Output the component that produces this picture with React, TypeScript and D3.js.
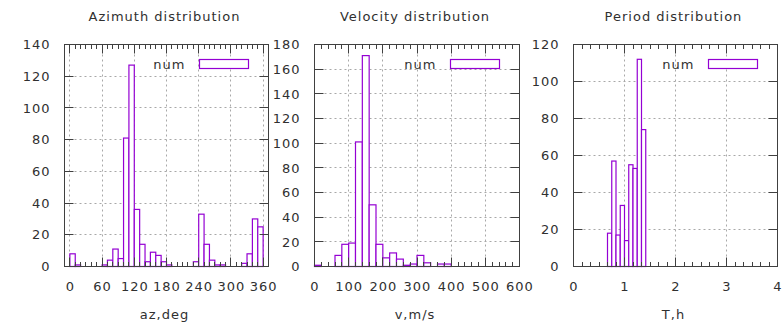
import React from "react";
import * as d3 from "d3";

// ---- data ----
const azBinWidth = 10;
const azStart = 0;
const azCounts = [8, 1, 0, 0, 0, 0, 1, 4, 11, 5, 81, 127, 36, 14, 3, 9, 7, 3, 1, 0, 0, 0, 0, 3, 33, 14, 4, 1, 1, 0, 0, 0, 2, 8, 30, 25];

const velBinWidth = 20;
const velStart = 0;
const velCounts = [1, 0, 0, 9, 18, 19, 101, 171, 50, 18, 7, 11, 6, 1, 2, 9, 3, 0, 2, 2];

const perBinWidth = 1 / 12;
const perStart = 8 / 12;
const perCounts = [18, 57, 17, 33, 14, 55, 53, 112, 74];

const azXTicks = [0, 60, 120, 180, 240, 300, 360];
const velXTicks = [0, 100, 200, 300, 400, 500, 600];
const perXTicks = [0, 1, 2, 3, 4];

const titles = ["Azimuth distribution", "Velocity distribution", "Period distribution"];
const xLabels = ["az,deg", "v,m/s", "T,h"];
const legendLabel = "num";

// ---- style ----
const FONT = "'DejaVu Sans', sans-serif";
const PURPLE = "#9400d3";
const FRAME = "#404040";
const TEXT = "#303030";
const GRID = "#a8a8a8";

interface Panel {
  left: number;
  right: number;
  xDomain: [number, number];
  yMax: number;
  xTicks: number[];
  minorStep: number;
  counts: number[];
  start: number;
  width: number;
  title: string;
  xLabel: string;
}

const TOP = 44.5;
const BOTTOM = 266.5;
const MAJOR = 9;
const MINOR = 4.5;

const panels: Panel[] = [
  { left: 64.5, right: 268.5, xDomain: [-10, 370], yMax: 140, xTicks: azXTicks, minorStep: 10, counts: azCounts, start: azStart, width: azBinWidth, title: titles[0], xLabel: xLabels[0] },
  { left: 314.5, right: 519.5, xDomain: [0, 600], yMax: 180, xTicks: velXTicks, minorStep: 20, counts: velCounts, start: velStart, width: velBinWidth, title: titles[1], xLabel: xLabels[1] },
  { left: 573.5, right: 777.5, xDomain: [0, 4], yMax: 120, xTicks: perXTicks, minorStep: 1 / 6, counts: perCounts, start: perStart, width: perBinWidth, title: titles[2], xLabel: xLabels[2] },
];

const px = (v: number) => Math.floor(v + 0.01) + 0.5;

function PanelView({ p }: { p: Panel }) {
  const x = d3.scaleLinear().domain(p.xDomain).range([p.left, p.right]);
  const y = d3.scaleLinear().domain([0, p.yMax]).range([BOTTOM, TOP]);
  const yTicks = d3.range(0, p.yMax + 0.001, 20);
  const minors: number[] = [];
  const nMin = Math.round((p.xDomain[1] - p.xDomain[0]) / p.minorStep);
  for (let i = 0; i <= nMin + 1; i++) {
    const v = Math.ceil(p.xDomain[0] / p.minorStep - 1e-9) * p.minorStep + i * p.minorStep;
    if (v > p.xDomain[0] + 1e-9 && v < p.xDomain[1] - 1e-9) {
      const isMajor = p.xTicks.some((t) => Math.abs(t - v) < 1e-6);
      if (!isMajor) minors.push(v);
    }
  }
  const cx = (p.left + p.right) / 2;
  const textStyle = { fontFamily: FONT, fontSize: 13, letterSpacing: "1px", fill: TEXT };
  const legendBoxRight = p.right - 20;
  const legendBoxLeft = legendBoxRight - 49;
  const legendY = 64;
  return (
    <g>
      {/* grid */}
      {yTicks.filter((t) => t > 0 && t < p.yMax).map((t) => (
        <line key={"gy" + t} x1={p.left} x2={p.right} y1={px(y(t))} y2={px(y(t))} stroke={GRID} strokeWidth={1} strokeDasharray="2,3" />
      ))}
      {p.xTicks.filter((t) => x(t) > p.left + 1 && x(t) < p.right - 1).map((t) => (
        <line key={"gx" + t} x1={px(x(t))} x2={px(x(t))} y1={TOP} y2={BOTTOM} stroke={GRID} strokeWidth={1} strokeDasharray="2,3" />
      ))}
      {/* bars */}
      {p.counts.map((c, i) => {
        const x0 = x(p.start + i * p.width);
        const x1 = x(p.start + (i + 1) * p.width);
        return (
          <rect key={"b" + i} x={x0} y={y(c)} width={x1 - x0} height={BOTTOM - y(c)} fill="#ffffff" stroke={PURPLE} strokeWidth={1.2} />
        );
      })}
      {/* ticks y */}
      {yTicks.map((t) => (
        <g key={"ty" + t}>
          <line x1={p.left} x2={p.left + MAJOR} y1={px(y(t))} y2={px(y(t))} stroke={FRAME} />
          <line x1={p.right} x2={p.right - MAJOR} y1={px(y(t))} y2={px(y(t))} stroke={FRAME} />
          <text x={p.left - 14} y={y(t)} dy="0.36em" textAnchor="end" style={textStyle}>{t}</text>
        </g>
      ))}
      {/* ticks x */}
      {p.xTicks.map((t) => (
        <g key={"tx" + t}>
          <line x1={px(x(t))} x2={px(x(t))} y1={BOTTOM} y2={BOTTOM - MAJOR} stroke={FRAME} />
          <line x1={px(x(t))} x2={px(x(t))} y1={TOP} y2={TOP + MAJOR} stroke={FRAME} />
          <text x={x(t) + 0.5} y={291} textAnchor="middle" style={textStyle}>{t}</text>
        </g>
      ))}
      {minors.map((t, i) => (
        <g key={"mx" + i}>
          <line x1={px(x(t))} x2={px(x(t))} y1={BOTTOM} y2={BOTTOM - MINOR} stroke={FRAME} />
          <line x1={px(x(t))} x2={px(x(t))} y1={TOP} y2={TOP + MINOR} stroke={FRAME} />
        </g>
      ))}
      {/* frame */}
      <rect x={p.left} y={TOP} width={p.right - p.left} height={BOTTOM - TOP} fill="none" stroke={FRAME} strokeWidth={1} />
      {/* legend */}
      <text x={legendBoxLeft - 14} y={legendY} dy="0.36em" textAnchor="end" style={textStyle}>{legendLabel}</text>
      <rect x={legendBoxLeft} y={legendY - 4.5} width={49} height={9} fill="#ffffff" stroke={PURPLE} strokeWidth={1.2} />
      {/* titles */}
      <text x={cx - 2} y={21} textAnchor="middle" style={textStyle}>{p.title}</text>
      <text x={cx - 2} y={318.5} textAnchor="middle" style={textStyle}>{p.xLabel}</text>
    </g>
  );
}

export default function App() {
  return (
    <svg width={783} height={323} style={{ position: "absolute", left: 0, top: 0, background: "#ffffff" }}>
      <rect x={0} y={0} width={783} height={323} fill="#ffffff" />
      {panels.map((p, i) => (
        <PanelView key={i} p={p} />
      ))}
    </svg>
  );
}
